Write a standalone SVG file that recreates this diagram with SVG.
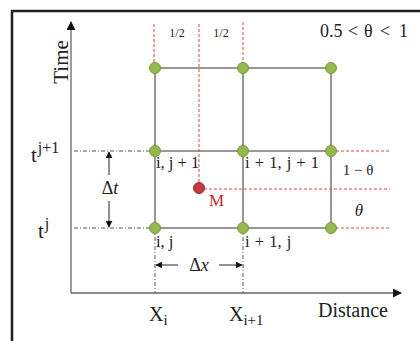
<svg xmlns="http://www.w3.org/2000/svg" width="420" height="341" viewBox="0 0 420 341">
<style>
.frame{fill:none;stroke:#222;stroke-width:2.5}
.axis{stroke:#666;stroke-width:1.3;fill:none}
.grid{stroke:#777;stroke-width:1.5;fill:none}
.red{stroke:#e0464a;stroke-width:1;stroke-dasharray:3,2;fill:none}
.dd{stroke:#444;stroke-width:0.9;stroke-dasharray:4,2,1,2;fill:none}
.arr{stroke:#222;stroke-width:1;fill:none}
.node{fill:#95b74f;stroke:#789a3a;stroke-width:1}
.serif{font-family:"Liberation Serif","DejaVu Serif",serif;fill:#222}
.lbl{font-family:"Liberation Serif","DejaVu Serif",serif;font-size:16.5px;fill:#222}
</style>
<defs>
<marker id="ah" viewBox="0 0 10 10" refX="9" refY="5" markerWidth="7" markerHeight="7" orient="auto" markerUnits="userSpaceOnUse">
<path d="M0,0 L10,5 L0,10 z" fill="#111"/>
</marker>
<marker id="axh" viewBox="0 0 10 10" refX="9" refY="5" markerWidth="9" markerHeight="9" orient="auto" markerUnits="userSpaceOnUse">
<path d="M0,0 L10,5 L0,10 z" fill="#111"/>
</marker>
</defs>
<rect width="420" height="341" fill="#fff"/>
<path class="frame" d="M12,345 L12,11 L425,11"/>

<g id="axes">
<line class="axis" x1="71" y1="293" x2="71" y2="22" marker-end="url(#axh)"/>
<line class="axis" x1="71" y1="293" x2="401" y2="293" marker-end="url(#axh)"/>
<text class="serif" font-size="21" text-anchor="middle" transform="translate(68,62) rotate(-90)">Time</text>
<text class="serif" font-size="20" x="353" y="317" text-anchor="middle">Distance</text>
</g>

<g id="connectors">
<path class="grid" d="M155,68 H331 M155,151 H331 M155,228 H331 M155,68 V228 M243,68 V228 M331,68 V228"/>
<line class="red" x1="154" y1="24" x2="154" y2="68"/>
<line class="red" x1="199" y1="24" x2="199" y2="188"/>
<line class="red" x1="243" y1="22" x2="243" y2="68"/>
<line class="red" x1="199" y1="189" x2="390" y2="189"/>
<line class="red" x1="331" y1="151" x2="390" y2="151"/>
<line class="red" x1="331" y1="228" x2="390" y2="228"/>
<line class="dd" x1="74" y1="151" x2="155" y2="151"/>
<line class="dd" x1="74" y1="228" x2="155" y2="228"/>
<line class="dd" x1="155" y1="228" x2="155" y2="293"/>
<line class="dd" x1="243" y1="228" x2="243" y2="293"/>
<line class="arr" x1="109" y1="175" x2="109" y2="152" marker-end="url(#ah)"/>
<line class="arr" x1="109" y1="201" x2="109" y2="227" marker-end="url(#ah)"/>
<line class="arr" x1="178" y1="265" x2="156" y2="265" marker-end="url(#ah)"/>
<line class="arr" x1="219" y1="265" x2="242" y2="265" marker-end="url(#ah)"/>
</g>

<g id="node-top-left"><circle class="node" cx="155" cy="68" r="5.5"/></g>
<g id="node-top-mid"><circle class="node" cx="243" cy="68" r="5.5"/></g>
<g id="node-top-right"><circle class="node" cx="331" cy="68" r="5.5"/></g>
<g id="node-i-j1"><circle class="node" cx="155" cy="151" r="5.5"/>
<text class="lbl" x="156" y="168">i, j + 1</text></g>
<g id="node-i1-j1"><circle class="node" cx="243" cy="151" r="5.5"/>
<text class="lbl" x="245" y="168" word-spacing="1">i + 1, j + 1</text></g>
<g id="node-mid-right"><circle class="node" cx="331" cy="151" r="5.5"/></g>
<g id="node-i-j"><circle class="node" cx="155" cy="228" r="5.5"/>
<text class="lbl" x="156" y="247">i, j</text></g>
<g id="node-i1-j"><circle class="node" cx="243" cy="228" r="5.5"/>
<text class="lbl" x="245" y="247" word-spacing="1">i + 1, j</text></g>
<g id="node-bot-right"><circle class="node" cx="331" cy="228" r="5.5"/></g>
<g id="node-M"><circle cx="199" cy="188" r="5.5" fill="#c33a3c" stroke="#9a2a2c" stroke-width="1"/>
<text class="serif" font-size="17" x="209" y="206" style="fill:#c8282c">M</text></g>

<g id="labels">
<text class="serif" font-size="12" x="177" y="37" text-anchor="middle">1/2</text>
<text class="serif" font-size="12" x="221" y="37" text-anchor="middle">1/2</text>
<text class="serif" font-size="18" y="37" fill="#333"><tspan x="320">0.5</tspan><tspan x="348">&lt;</tspan><tspan x="364">θ</tspan><tspan x="380">&lt;</tspan><tspan x="399">1</tspan></text>
<text class="serif" font-size="15" x="358" y="175" text-anchor="middle" fill="#333">1 − θ</text>
<text class="serif" font-size="17" font-style="italic" x="359" y="216" text-anchor="middle" fill="#333">θ</text>
<text class="serif" font-size="21" x="31" y="162">t<tspan font-size="16" dx="1" dy="-9">j+1</tspan></text>
<text class="serif" font-size="21" x="38" y="238">t<tspan font-size="16" dx="1" dy="-9">j</tspan></text>
<text class="serif" font-size="18" x="110" y="194" text-anchor="middle">Δ<tspan font-style="italic">t</tspan></text>
<text class="serif" font-size="18" x="199" y="271" text-anchor="middle">Δ<tspan font-style="italic">x</tspan></text>
<text class="serif" font-size="20" x="149" y="321">X<tspan font-size="15" dy="4">i</tspan></text>
<text class="serif" font-size="20" x="229" y="321">X<tspan font-size="15" dy="4">i+1</tspan></text>
</g>
</svg>
